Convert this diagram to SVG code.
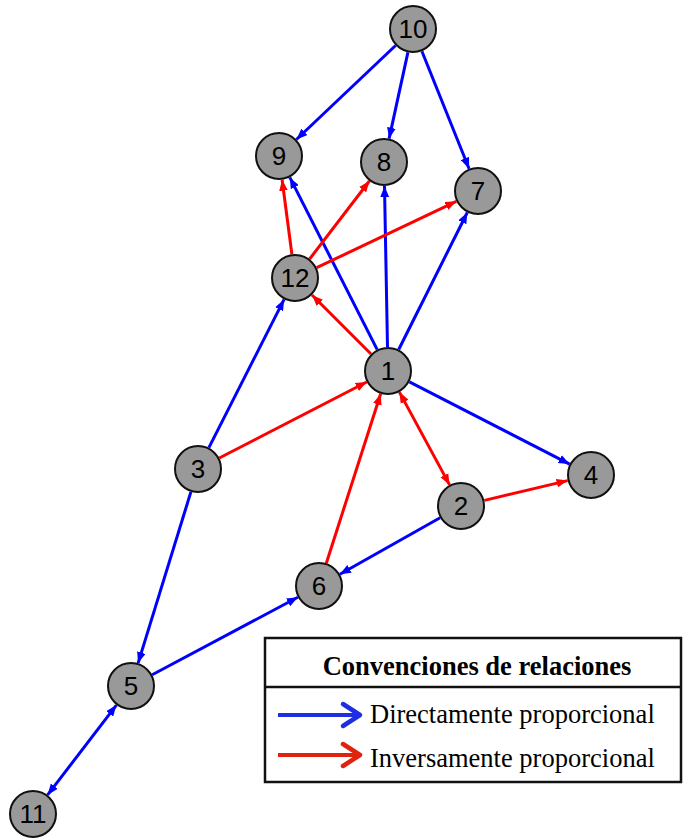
<svg xmlns="http://www.w3.org/2000/svg" width="686" height="839" viewBox="0 0 686 839">
<style>
.n circle{fill:#999;stroke:#111;stroke-width:2}
.n text{font-family:"Liberation Sans",Arial,sans-serif;font-size:26px;fill:#000;text-anchor:middle;dominant-baseline:central}
.b{stroke:#0000ff;stroke-width:3;fill:none;marker-end:url(#ab)}
.r{stroke:#ff0000;stroke-width:3;fill:none;marker-end:url(#ar)}
.lt{font-family:"Liberation Serif","Times New Roman",serif;font-size:26.5px;fill:#000}
</style>
<defs>
<marker id="ab" viewBox="0 0 10 8" refX="10" refY="4" markerWidth="11" markerHeight="9" markerUnits="userSpaceOnUse" orient="auto-start-reverse"><path d="M0,0 L10,4 L0,8 z" fill="#0000ff"/></marker>
<marker id="ar" viewBox="0 0 10 8" refX="10" refY="4" markerWidth="11" markerHeight="9" markerUnits="userSpaceOnUse" orient="auto-start-reverse"><path d="M0,0 L10,4 L0,8 z" fill="#ff0000"/></marker>
</defs>
<rect width="686" height="839" fill="#fff"/>
<g id="edges">
<line class="b" x1="395.6" y1="45.5" x2="296.4" y2="139.5"/>
<line class="b" x1="407.9" y1="52.4" x2="389.1" y2="138.6"/>
<line class="b" x1="421.9" y1="51.3" x2="469.1" y2="168.7"/>
<line class="b" x1="377.2" y1="349.6" x2="289.8" y2="177.4"/>
<line class="b" x1="387.5" y1="347" x2="384.5" y2="186"/>
<line class="b" x1="398.7" y1="349.5" x2="467.3" y2="212.5"/>
<line class="b" x1="409.4" y1="381.9" x2="569.6" y2="464.1"/>
<line class="b" x1="208.9" y1="447.6" x2="284.1" y2="299.4"/>
<line class="b" x1="190.9" y1="491.9" x2="138.1" y2="663.1"/>
<line class="b" x1="440.1" y1="517.8" x2="339.9" y2="574.2"/>
<line class="b" x1="152.2" y1="674.7" x2="297.8" y2="597.3"/>
<line class="b" x1="116.4" y1="705.1" x2="47.6" y2="794.9" marker-start="url(#ab)"/>
<line class="r" x1="291.9" y1="254.2" x2="282.1" y2="179.8"/>
<line class="r" x1="309.6" y1="259" x2="369.4" y2="181"/>
<line class="r" x1="316.7" y1="267.7" x2="456.3" y2="201.3"/>
<line class="r" x1="371" y1="354" x2="312" y2="295"/>
<line class="r" x1="219.3" y1="458" x2="366.7" y2="382"/>
<line class="r" x1="326.3" y1="563.2" x2="380.7" y2="393.8"/>
<line class="r" x1="399.4" y1="392.1" x2="449.6" y2="484.9" marker-start="url(#ar)"/>
<line class="r" x1="484.4" y1="500.4" x2="567.6" y2="480.6"/>
</g>
<g id="n10" class="n"><circle cx="413" cy="29" r="23"/><text x="413" y="29">10</text></g>
<g id="n9" class="n"><circle cx="279" cy="156" r="23"/><text x="279" y="156">9</text></g>
<g id="n8" class="n"><circle cx="384" cy="162" r="23"/><text x="384" y="162">8</text></g>
<g id="n7" class="n"><circle cx="478" cy="191" r="23"/><text x="478" y="191">7</text></g>
<g id="n12" class="n"><circle cx="295" cy="278" r="23"/><text x="295" y="278">12</text></g>
<g id="n1" class="n"><circle cx="388" cy="371" r="23"/><text x="388" y="371">1</text></g>
<g id="n3" class="n"><circle cx="198" cy="469" r="23"/><text x="198" y="469">3</text></g>
<g id="n4" class="n"><circle cx="591" cy="475" r="23"/><text x="591" y="475">4</text></g>
<g id="n2" class="n"><circle cx="461" cy="506" r="23"/><text x="461" y="506">2</text></g>
<g id="n6" class="n"><circle cx="319" cy="586" r="23"/><text x="319" y="586">6</text></g>
<g id="n5" class="n"><circle cx="131" cy="686" r="23"/><text x="131" y="686">5</text></g>
<g id="n11" class="n"><circle cx="33" cy="814" r="23"/><text x="33" y="814">11</text></g>
<g id="legend">
<rect x="265" y="638" width="416" height="144" fill="#fff" stroke="#111" stroke-width="2.5"/>
<line x1="265" y1="687" x2="681" y2="687" stroke="#111" stroke-width="2.5"/>
<text x="477" y="675" class="lt" font-weight="bold" text-anchor="middle">Convenciones de relaciones</text>
<line x1="278" y1="715" x2="358" y2="715" stroke="#1f2ee0" stroke-width="4"/>
<polyline points="343,704 360,715 343,726" fill="none" stroke="#1f2ee0" stroke-width="4.5" stroke-linecap="round" stroke-linejoin="round"/>
<text x="370" y="723" class="lt">Directamente proporcional</text>
<line x1="278" y1="755" x2="358" y2="755" stroke="#e0230e" stroke-width="4"/>
<polyline points="343,744 360,755 343,766" fill="none" stroke="#e0230e" stroke-width="4.5" stroke-linecap="round" stroke-linejoin="round"/>
<text x="370" y="767" class="lt">Inversamente proporcional</text>
</g>
</svg>
